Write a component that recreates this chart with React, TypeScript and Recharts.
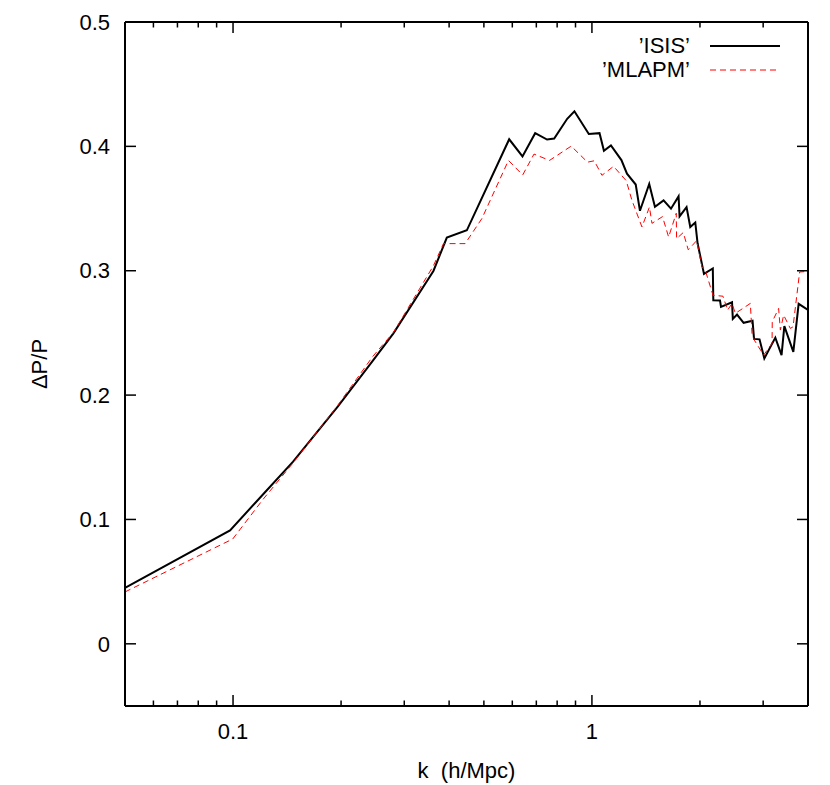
import React from 'react';
import { LineChart, Line, XAxis, YAxis, Legend } from 'recharts';

const FONT = '"Liberation Sans", Arial, Helvetica, sans-serif';

// ISIS series (k in h/Mpc, ΔP/P)
const isisK = [0.05, 0.0981, 0.1215, 0.147, 0.196, 0.245, 0.2798, 0.3617, 0.3942, 0.4482, 0.5881, 0.6405, 0.6948, 0.7499, 0.785, 0.8533, 0.8937, 0.9802, 1.05, 1.0801, 1.1297, 1.2083, 1.2522, 1.3245, 1.3609, 1.4443, 1.4982, 1.5835, 1.6606, 1.7435, 1.7547, 1.8351, 1.8793, 1.9409, 1.9697, 2.0523, 2.1718, 2.1788, 2.2743, 2.289, 2.4569, 2.4694, 2.5368, 2.6466, 2.8027, 2.8294, 2.9309, 3.0225, 3.2434, 3.3756, 3.4367, 3.6408, 3.767, 4.0];
const isisV = [0.0449, 0.0912, 0.1205, 0.1465, 0.191, 0.2275, 0.2496, 0.2998, 0.3266, 0.3325, 0.4057, 0.3919, 0.4106, 0.4055, 0.4063, 0.4222, 0.4282, 0.4099, 0.4106, 0.3965, 0.4007, 0.389, 0.378, 0.3693, 0.3482, 0.3697, 0.3514, 0.3566, 0.3499, 0.3598, 0.3437, 0.3512, 0.3352, 0.3388, 0.3221, 0.2974, 0.3018, 0.2763, 0.2761, 0.2709, 0.2746, 0.2612, 0.2647, 0.2581, 0.2597, 0.2452, 0.2448, 0.2295, 0.2462, 0.2322, 0.2555, 0.2348, 0.2734, 0.2685];

// MLAPM series
const mlapmK = [0.05, 0.0998, 0.1215, 0.147, 0.196, 0.245, 0.28, 0.3617, 0.3858, 0.4433, 0.4935, 0.5854, 0.6413, 0.6896, 0.7617, 0.8755, 0.9721, 1.0149, 1.0663, 1.1489, 1.2463, 1.2927, 1.3784, 1.4464, 1.4699, 1.5727, 1.6356, 1.7178, 1.7214, 1.7967, 1.8555, 1.9581, 2.0259, 2.0694, 2.1744, 2.3186, 2.3878, 2.4569, 2.5096, 2.7629, 2.7931, 2.8345, 3.0093, 3.1762, 3.18, 3.3129, 3.3497, 3.4214, 3.5711, 3.634, 3.791, 4.0];
const mlapmV = [0.0417, 0.0843, 0.1165, 0.1455, 0.192, 0.231, 0.2505, 0.304, 0.3218, 0.3218, 0.3419, 0.3887, 0.377, 0.3938, 0.3887, 0.4002, 0.3873, 0.3884, 0.3767, 0.3839, 0.3724, 0.3566, 0.3352, 0.3512, 0.3381, 0.3435, 0.3271, 0.3462, 0.3258, 0.3307, 0.3168, 0.3242, 0.3031, 0.3004, 0.2803, 0.2795, 0.2683, 0.2737, 0.2657, 0.2737, 0.2496, 0.2442, 0.2322, 0.2416, 0.2589, 0.2697, 0.2523, 0.2643, 0.2536, 0.2549, 0.299, 0.2994];

const xTicks = [0.06, 0.07, 0.08, 0.09, 0.1, 0.2, 0.3, 0.4, 0.5, 0.6, 0.7, 0.8, 0.9, 1, 2, 3];
const xMajor = [0.1, 1];
const xMajorLabels = ['0.1', '1'];
const yTicks = [0, 0.1, 0.2, 0.3, 0.4, 0.5];
const yTickLabels = ['0', '0.1', '0.2', '0.3', '0.4', '0.5'];

const seriesNames = ['\u2019ISIS\u2019', '\u2019MLAPM\u2019'];
const xTitle = 'k  (h/Mpc)';
const yTitle = '\u0394P/P';

const isisData = isisK.map((k, i) => ({ k, v: isisV[i] }));
const mlapmData = mlapmK.map((k, i) => ({ k, v: mlapmV[i] }));

const MAJOR = 11;
const MINOR = 5.5;
const TW = 1.5;

const majorIndex = (v: number) => xMajor.findIndex((m) => Math.abs(m - v) < 1e-9);

const BottomTick = (props: any) => {
  const { x, y, payload } = props;
  const idx = majorIndex(payload.value);
  const len = idx >= 0 ? MAJOR : MINOR;
  return (
    <g>
      <line x1={x} x2={x} y1={y} y2={y - len} stroke="#000" strokeWidth={TW} />
      {idx >= 0 && (
        <text x={x} y={y + 25} dy="0.35em" textAnchor="middle" fontSize={22} fontFamily={FONT} fill="#000">
          {xMajorLabels[idx]}
        </text>
      )}
    </g>
  );
};

const TopTick = (props: any) => {
  const { x, y, payload } = props;
  const idx = majorIndex(payload.value);
  const len = idx >= 0 ? MAJOR : MINOR;
  return <line x1={x} x2={x} y1={y} y2={y + len} stroke="#000" strokeWidth={TW} />;
};

const LeftTick = (props: any) => {
  const { x, y, payload } = props;
  const i = yTicks.findIndex((t) => Math.abs(t - payload.value) < 1e-9);
  return (
    <g>
      <line x1={x} x2={x + MAJOR} y1={y} y2={y} stroke="#000" strokeWidth={TW} />
      <text x={x - 15} y={y} dy="0.35em" textAnchor="end" fontSize={22} fontFamily={FONT} fill="#000">
        {i >= 0 ? yTickLabels[i] : String(payload.value)}
      </text>
    </g>
  );
};

const RightTick = (props: any) => {
  const { x, y } = props;
  return <line x1={x} x2={x - MAJOR} y1={y} y2={y} stroke="#000" strokeWidth={TW} />;
};

const XTitle = (props: any) => {
  const vb = props.viewBox || {};
  const cx = (vb.x ?? 125) + (vb.width ?? 683) / 2;
  const cy = (vb.y ?? 706) + 64;
  return (
    <text x={cx} y={cy} dy="0.35em" textAnchor="middle" fontSize={22} fontFamily={FONT} fill="#000" style={{ whiteSpace: 'pre' }}>
      {xTitle}
    </text>
  );
};

const YTitle = (props: any) => {
  const vb = props.viewBox || {};
  const cx = (vb.x ?? 0) + 39;
  const cy = (vb.y ?? 22) + (vb.height ?? 684) / 2;
  return (
    <text x={cx} y={cy} dy="0.35em" textAnchor="middle" fontSize={22} fontFamily={FONT} fill="#000" transform={`rotate(-90 ${cx} ${cy})`}>
      {yTitle}
    </text>
  );
};

const LegendBox = () => {
  const rows = [
    { name: seriesNames[0], stroke: '#000000', width: 2, dash: undefined as string | undefined },
    { name: seriesNames[1], stroke: '#ff0000', width: 1, dash: '6 4' },
  ];
  return (
    <div style={{ fontFamily: FONT, fontSize: 22, color: '#000' }}>
      {rows.map((r) => (
        <div key={r.name} style={{ display: 'flex', alignItems: 'center', height: 24 }}>
          <span style={{ width: 100, textAlign: 'right', lineHeight: '24px', whiteSpace: 'nowrap' }}>{r.name}</span>
          <svg width={90} height={24} style={{ display: 'block' }}>
            <line x1={20} x2={90} y1={12} y2={12} stroke={r.stroke} strokeWidth={r.width} strokeDasharray={r.dash} />
          </svg>
        </div>
      ))}
    </div>
  );
};

export default function App() {
  return (
    <div style={{ position: 'absolute', left: 0, top: 0, background: '#fff' }}>
      <LineChart width={830} height={785} margin={{ top: 21, right: 21, bottom: 0, left: 0 }}>
        <XAxis
          xAxisId="b"
          dataKey="k"
          type="number"
          scale="log"
          domain={[0.05, 4]}
          allowDataOverflow
          ticks={xTicks}
          interval={0}
          height={79}
          tickSize={0}
          tickMargin={0}
          tickLine={false}
          tick={<BottomTick />}
          axisLine={{ stroke: '#000', strokeWidth: 2 }}
          label={<XTitle />}
        />
        <XAxis
          xAxisId="t"
          orientation="top"
          dataKey="k"
          type="number"
          scale="log"
          domain={[0.05, 4]}
          allowDataOverflow
          ticks={xTicks}
          interval={0}
          height={1}
          tickSize={0}
          tickMargin={0}
          tickLine={false}
          tick={<TopTick />}
          axisLine={{ stroke: '#000', strokeWidth: 2 }}
        />
        <YAxis
          yAxisId="l"
          type="number"
          domain={[-0.05, 0.5]}
          allowDataOverflow
          ticks={yTicks}
          interval={0}
          width={125}
          tickSize={0}
          tickMargin={0}
          tickLine={false}
          tick={<LeftTick />}
          axisLine={{ stroke: '#000', strokeWidth: 2 }}
          label={<YTitle />}
        />
        <YAxis
          yAxisId="r"
          orientation="right"
          type="number"
          domain={[-0.05, 0.5]}
          allowDataOverflow
          ticks={yTicks}
          interval={0}
          width={1}
          tickSize={0}
          tickMargin={0}
          tickLine={false}
          tick={<RightTick />}
          axisLine={{ stroke: '#000', strokeWidth: 2 }}
        />
        <Line
          xAxisId="b"
          yAxisId="l"
          data={isisData}
          dataKey="v"
          name={seriesNames[0]}
          type="linear"
          stroke="#000000"
          strokeWidth={2}
          dot={false}
          activeDot={false}
          isAnimationActive={false}
        />
        <Line
          xAxisId="b"
          yAxisId="l"
          data={mlapmData}
          dataKey="v"
          name={seriesNames[1]}
          type="linear"
          stroke="#ff0000"
          strokeWidth={1}
          strokeDasharray="6 4"
          dot={false}
          activeDot={false}
          isAnimationActive={false}
        />
        <Line
          xAxisId="t"
          yAxisId="r"
          data={isisData}
          dataKey="v"
          stroke="none"
          strokeWidth={0}
          dot={false}
          activeDot={false}
          legendType="none"
          isAnimationActive={false}
        />
        <Legend
          layout="vertical"
          align="center"
          verticalAlign="middle"
          wrapperStyle={{ position: 'absolute', left: 590, top: 34, width: 200 }}
          content={() => <LegendBox />}
        />
      </LineChart>
    </div>
  );
}
